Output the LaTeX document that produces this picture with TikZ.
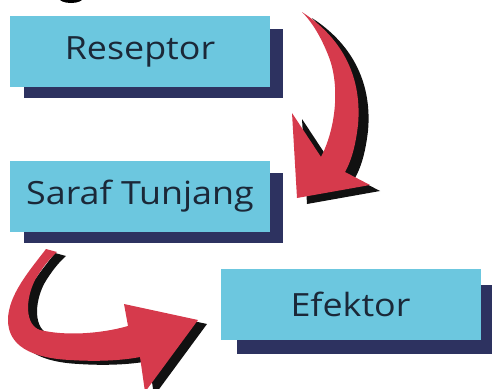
\documentclass[tikz,border=0pt]{standalone}
\usepackage{fontspec}
\setmainfont{Open Sans}[FakeStretch=1.12]
\definecolor{boxblue}{HTML}{6CC7DF}
\definecolor{shadownavy}{HTML}{2D3260}
\definecolor{txtnavy}{HTML}{1B2838}
\definecolor{arrred}{HTML}{D63A4C}
\definecolor{arrshadow}{HTML}{111111}
\tikzset{
  stepbox/.style={fill=boxblue, draw=none, inner sep=0pt, minimum width=260pt, minimum height=71pt,
    text=txtnavy, font=\fontsize{32}{36}\selectfont},
  boxshadow/.style={fill=shadownavy, draw=none},
  redarrow/.style={fill=arrred, draw=none},
  blackarrow/.style={fill=arrshadow, draw=none},
}
\begin{document}
\begin{tikzpicture}[x=1pt, y=-1pt]
\useasboundingbox (0,0) rectangle (492,388);
% cropped fragment at top
\fill[black] (71,-2) ellipse (12pt and 5pt);
% shadows
\fill[boxshadow] (24,29) rectangle (283,98);
\fill[boxshadow] (24,173) rectangle (283,243);
\fill[boxshadow] (237,285) rectangle (496,354);
% boxes
\node[stepbox] (res) at (140,51.5) {Reseptor};
\node[stepbox] (saraf) at (140,196.5) {Saraf Tunjang};
\node[stepbox] (efek) at (350.5,304) {Efektor};
% arrow 1 (Reseptor -> Saraf Tunjang)
\def\arrowone{(302,12) .. controls (345,40) and (362,80) .. (358,125)
  .. controls (355,150) and (350,163) .. (345,172) -- (370,185) -- (297,198)
  -- (292,113) -- (321,157) .. controls (335,130) and (340,90) .. (330,60)
  .. controls (322,38) and (312,22) .. (302,12) -- cycle}
\fill[blackarrow, shift={(10pt,-6pt)}] \arrowone;
\fill[redarrow] \arrowone;
% arrow 2 (Saraf Tunjang -> Efektor)
\def\arrowtwo{(46,249) .. controls (30,270) and (8,295) .. (8,320)
  .. controls (8,345) and (30,358) .. (70,360) .. controls (100,362) and (125,360) .. (140,357)
  -- (145,392) -- (198,320) -- (124,304) -- (128,326)
  .. controls (100,334) and (65,336) .. (40,330)
  .. controls (25,325) and (25,300) .. (35,280)
  .. controls (42,268) and (50,258) .. (57,252) -- cycle}
\fill[blackarrow, shift={(9pt,-4pt)}] \arrowtwo;
\fill[redarrow] \arrowtwo;
\end{tikzpicture}
\end{document}
